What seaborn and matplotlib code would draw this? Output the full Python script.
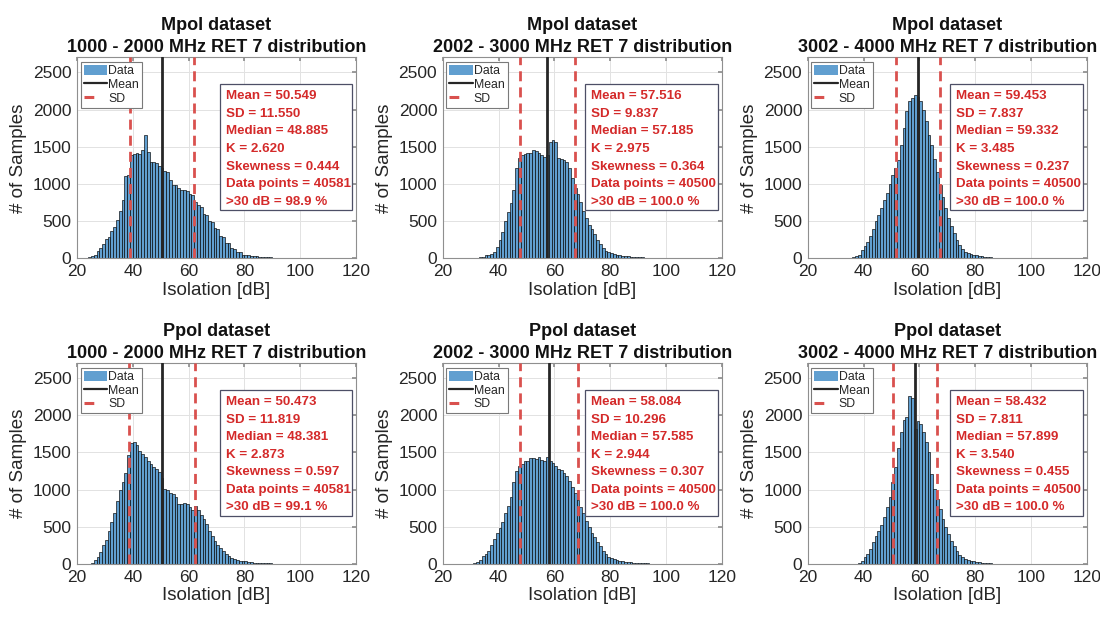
import numpy as np
import pandas as pd
import matplotlib
matplotlib.use("Agg")
import matplotlib.pyplot as plt
from matplotlib.lines import Line2D
from matplotlib.patches import Patch, Rectangle
import seaborn as sns

# ---------------------------------------------------------------- data
datasets = ["Mpol dataset", "Mpol dataset", "Mpol dataset",
            "Ppol dataset", "Ppol dataset", "Ppol dataset"]
bands = ["1000 - 2000 MHz RET 7 distribution",
         "2002 - 3000 MHz RET 7 distribution",
         "3002 - 4000 MHz RET 7 distribution",
         "1000 - 2000 MHz RET 7 distribution",
         "2002 - 3000 MHz RET 7 distribution",
         "3002 - 4000 MHz RET 7 distribution"]

# first 1-dB bin edge of each histogram
first_bin = [23, 33, 34, 24, 31, 38]

# samples per 1-dB isolation bin
mpol_1000_2000 = [5, 12, 25, 45, 100, 140, 190, 260, 290, 360, 420, 520, 640, 780,
                  1110, 1120, 1390, 1400, 1410, 1400, 1460, 1660, 1430, 1300, 1300,
                  1280, 1240, 1210, 1170, 1160, 1050, 990, 985, 940, 920, 918, 910,
                  870, 850, 760, 720, 690, 600, 580, 500, 490, 410, 400, 300, 290,
                  210, 200, 140, 130, 85, 80, 50, 45, 40, 35, 28, 24, 22, 20, 18, 15,
                  12, 10, 9, 8, 8, 7, 6, 5, 5, 4, 3, 4, 3, 3, 2, 3, 2, 2, 1, 2, 1]
mpol_2002_3000 = [15, 22, 40, 45, 60, 90, 157, 246, 358, 500, 627, 740, 918, 1210,
                  1344, 1389, 1400, 1411, 1420, 1456, 1440, 1420, 1390, 1366, 1389,
                  1560, 1590, 1560, 1350, 1340, 1320, 1300, 1210, 1080, 950, 860,
                  750, 640, 540, 450, 400, 320, 250, 190, 140, 100, 80, 65, 55, 50,
                  45, 36, 30, 25, 22, 20, 18, 15, 12, 10, 9, 8, 6, 5, 5, 4, 4, 3, 3,
                  2, 2, 2, 1, 2, 1, 1, 2]
mpol_3002_4000 = [5, 10, 15, 25, 50, 110, 160, 220, 300, 400, 500, 580, 680, 780,
                  880, 1000, 1120, 1210, 1320, 1520, 1750, 1980, 2110, 2150, 2200,
                  2170, 2110, 2000, 1840, 1660, 1520, 1340, 1165, 990, 830, 670, 540,
                  430, 340, 250, 180, 125, 90, 70, 60, 45, 40, 32, 25, 20, 15, 12,
                  10, 8, 7, 6, 5, 4, 4, 3, 3, 2, 2, 2, 1, 1, 2, 1, 1, 1, 1]
ppol_1000_2000 = [5, 20, 50, 100, 160, 250, 320, 450, 560, 690, 850, 990, 1100,
                  1230, 1460, 1620, 1635, 1600, 1520, 1480, 1440, 1390, 1340, 1300,
                  1280, 1240, 1150, 1010, 990, 960, 940, 900, 810, 800, 815, 810,
                  760, 720, 780, 720, 660, 600, 540, 450, 380, 310, 250, 220, 180,
                  134, 112, 80, 67, 55, 45, 40, 35, 28, 22, 18, 15, 12, 10, 9, 8, 7,
                  6, 5, 4, 3]
ppol_2002_3000 = [8, 22, 60, 110, 140, 170, 250, 340, 420, 480, 570, 680, 780, 900,
                  1100, 1250, 1320, 1345, 1390, 1390, 1420, 1430, 1410, 1440, 1400,
                  1380, 1440, 1390, 1360, 1320, 1280, 1260, 1220, 1180, 1120, 1030,
                  950, 860, 770, 680, 580, 500, 420, 360, 300, 240, 180, 135, 100,
                  80, 67, 55, 45, 40, 32, 25, 22, 18, 15, 12, 10, 8, 7, 6, 5, 4, 3]
ppol_3002_4000 = [10, 45, 90, 134, 202, 291, 381, 450, 530, 627, 762, 900, 1100,
                  1300, 1560, 1780, 1935, 1971, 2262, 2231, 1815, 1926, 1882, 1770,
                  1635, 1500, 1210, 1008, 874, 740, 605, 493, 403, 314, 246, 179,
                  120, 90, 70, 55, 45, 36, 28, 22, 17, 13, 10, 7, 5, 3]
bin_counts = [mpol_1000_2000, mpol_2002_3000, mpol_3002_4000,
              ppol_1000_2000, ppol_2002_3000, ppol_3002_4000]

# summary statistics per panel
means = [50.549, 57.516, 59.453, 50.473, 58.084, 58.432]
sds = [11.550, 9.837, 7.837, 11.819, 10.296, 7.811]
medians = [48.885, 57.185, 59.332, 48.381, 57.585, 57.899]
kurtosis = [2.620, 2.975, 3.485, 2.873, 2.944, 3.540]
skewness = [0.444, 0.364, 0.237, 0.597, 0.307, 0.455]
data_points = [40581, 40500, 40500, 40581, 40500, 40500]
above_30db = [98.9, 100.0, 100.0, 99.1, 100.0, 100.0]

x_ticks = [20, 40, 60, 80, 100, 120]
y_ticks = [0, 500, 1000, 1500, 2000, 2500]

# ---------------------------------------------------------------- style
sns.set_theme(style="whitegrid")
plt.rcParams["font.family"] = ["Liberation Sans", "DejaVu Sans"]

BAR = "#619fd0"
MEAN_C = "#262626"
SD_C = "#d9514e"
TXT_C = "#d42a2a"
SPINE_C = "#8f8f8f"

fig = plt.figure(figsize=(11, 6.17), dpi=100)

lefts = [0.0700, 0.4025, 0.7343]
bottoms = [0.5814, 0.0859]
W, H = 0.2536, 0.3255

for i in range(6):
    row, col = divmod(i, 3)
    ax = fig.add_axes([lefts[col], bottoms[row], W, H])

    counts = np.array(bin_counts[i], dtype=float)
    edges = list(range(first_bin[i], first_bin[i] + len(counts) + 1))
    hist_df = pd.DataFrame({"isolation": np.array(edges[:-1]) + 0.5,
                            "samples": counts})
    sns.histplot(data=hist_df, x="isolation", weights="samples", bins=edges,
                 ax=ax, color=BAR, alpha=1.0, edgecolor="black",
                 linewidth=0.45, legend=False)

    m, s = means[i], sds[i]
    ax.axvline(m, color=MEAN_C, lw=2.0, zorder=4)
    for v in (m - s, m + s):
        ax.axvline(v, color=SD_C, lw=2.0, dashes=(3.6, 2.2), zorder=4)

    ax.set_xlim(20, 120)
    ax.set_ylim(0, 2700)
    ax.set_xticks(x_ticks)
    ax.set_yticks(y_ticks)
    ax.set_axisbelow(True)
    ax.grid(True, color="#e2e2e2", lw=0.7)
    ax.tick_params(axis="both", labelsize=12.5, colors="#8f8f8f",
                   labelcolor="#262626", direction="in", length=3,
                   top=True, right=True, pad=4)
    for sp in ax.spines.values():
        sp.set_color(SPINE_C)
        sp.set_linewidth(0.8)

    ax.set_xlabel("Isolation [dB]", fontsize=13.5, color="#262626", labelpad=2)
    ax.set_ylabel("# of Samples", fontsize=13.5, color="#262626", labelpad=4)
    ax.set_title(f"{datasets[i]}\n{bands[i]}", fontsize=13, fontweight="bold",
                 color="#111111", pad=4, linespacing=1.38)

    # legend
    handles = [Patch(facecolor=BAR, edgecolor="none"),
               Line2D([], [], color=MEAN_C, lw=1.6),
               Line2D([], [], color=SD_C, lw=2.2, dashes=(3.2, 20))]
    leg = ax.legend(handles, ["Data", "Mean", "SD"], loc="upper left",
                    bbox_to_anchor=(0.013, 0.978), borderaxespad=0,
                    fontsize=8.8, frameon=True, fancybox=False, framealpha=1,
                    edgecolor="#7a7a7a", handlelength=1.9, handleheight=0.9,
                    handletextpad=0.1, labelspacing=0.12, borderpad=0.25)
    leg.get_frame().set_linewidth(0.8)

    # statistics box
    ax.add_patch(Rectangle((0.511, 0.241), 0.474, 0.626, transform=ax.transAxes,
                           facecolor="white", edgecolor="#4d4f66", lw=0.9,
                           zorder=5))
    lines = [f"Mean = {means[i]:.3f}",
             f"SD = {sds[i]:.3f}",
             f"Median = {medians[i]:.3f}",
             f"K = {kurtosis[i]:.3f}",
             f"Skewness = {skewness[i]:.3f}",
             f"Data points = {data_points[i]}",
             f">30 dB = {above_30db[i]:.1f} %"]
    ys = np.linspace(0.806, 0.282, len(lines))
    for txt, y in zip(lines, ys):
        ax.text(0.533, y, txt, transform=ax.transAxes, va="center", ha="left",
                fontsize=9.6, fontweight="bold", color=TXT_C, zorder=6)

fig.savefig("out.png", dpi=100)
